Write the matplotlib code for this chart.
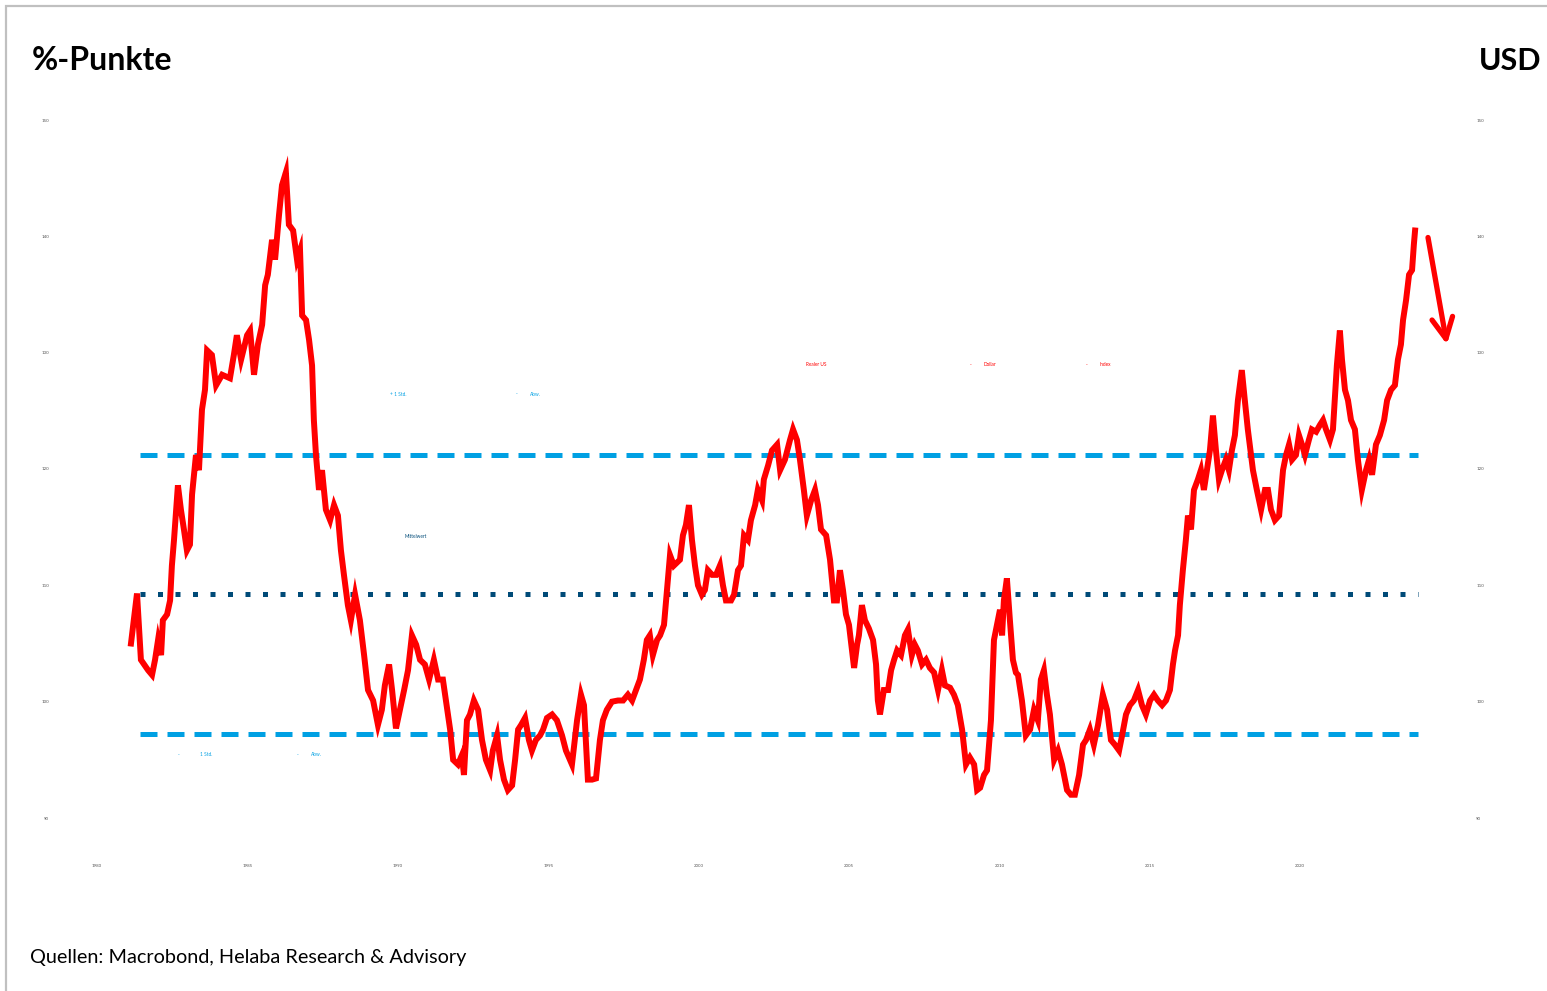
import matplotlib
matplotlib.use('Agg')
import matplotlib.pyplot as plt
from matplotlib.patches import Rectangle

plt.rcParams['font.family'] = ['Lato', 'DejaVu Sans']

# Realer US-Dollar-Index (Jahr, Wert)
YEARS = [1981.13, 1981.33, 1981.46, 1981.70, 1981.83, 1981.93, 1982.03, 1982.13, 1982.19, 1982.33,
         1982.43, 1982.49, 1982.56, 1982.63, 1982.69, 1982.79, 1982.89, 1982.99, 1983.09, 1983.16,
         1983.29, 1983.39, 1983.49, 1983.59, 1983.66, 1983.82, 1983.96, 1984.16, 1984.42, 1984.55,
         1984.65, 1984.79, 1984.99, 1985.09, 1985.22, 1985.35, 1985.49, 1985.59, 1985.68, 1985.82,
         1985.92, 1986.05, 1986.15, 1986.28, 1986.38, 1986.52, 1986.65, 1986.75, 1986.82, 1986.95,
         1987.05, 1987.15, 1987.21, 1987.28, 1987.38, 1987.48, 1987.61, 1987.75, 1987.88, 1988.01,
         1988.11, 1988.21, 1988.34, 1988.44, 1988.58, 1988.74, 1988.88, 1989.01, 1989.18, 1989.34,
         1989.47, 1989.57, 1989.71, 1989.81, 1989.94, 1990.07, 1990.21, 1990.34, 1990.47, 1990.61,
         1990.74, 1990.90, 1991.04, 1991.20, 1991.34, 1991.50, 1991.60, 1991.74, 1991.84, 1992.00,
         1992.13, 1992.20, 1992.30, 1992.40, 1992.53, 1992.67, 1992.80, 1992.93, 1993.07, 1993.16,
         1993.30, 1993.40, 1993.53, 1993.66, 1993.80, 1993.90, 1994.00, 1994.10, 1994.23, 1994.36,
         1994.46, 1994.59, 1994.73, 1994.83, 1994.96, 1995.13, 1995.29, 1995.46, 1995.59, 1995.79,
         1995.96, 1996.09, 1996.19, 1996.32, 1996.46, 1996.59, 1996.72, 1996.82, 1996.95, 1997.12,
         1997.32, 1997.49, 1997.65, 1997.79, 1997.92, 1998.05, 1998.18, 1998.28, 1998.38, 1998.48,
         1998.62, 1998.72, 1998.85, 1998.95, 1999.05, 1999.18, 1999.38, 1999.48, 1999.58, 1999.68,
         1999.78, 1999.88, 1999.98, 2000.11, 2000.21, 2000.31, 2000.45, 2000.58, 2000.71, 2000.81,
         2000.91, 2001.08, 2001.18, 2001.31, 2001.41, 2001.51, 2001.64, 2001.74, 2001.88, 2001.97,
         2002.11, 2002.17, 2002.31, 2002.44, 2002.61, 2002.71, 2002.87, 2003.04, 2003.14, 2003.27,
         2003.37, 2003.50, 2003.60, 2003.74, 2003.87, 2003.97, 2004.07, 2004.24, 2004.37, 2004.50,
         2004.60, 2004.70, 2004.80, 2004.90, 2005.00, 2005.10, 2005.17, 2005.27, 2005.33, 2005.43,
         2005.53, 2005.66, 2005.80, 2005.90, 2005.96, 2006.03, 2006.16, 2006.30, 2006.40, 2006.50,
         2006.60, 2006.73, 2006.86, 2006.96, 2007.09, 2007.19, 2007.29, 2007.43, 2007.56, 2007.69,
         2007.83, 2007.96, 2008.09, 2008.19, 2008.36, 2008.49, 2008.62, 2008.76, 2008.89, 2009.02,
         2009.16, 2009.26, 2009.36, 2009.49, 2009.59, 2009.72, 2009.82, 2009.92, 2010.02, 2010.09,
         2010.15, 2010.25, 2010.35, 2010.45, 2010.55, 2010.62, 2010.75, 2010.88, 2011.02, 2011.15,
         2011.28, 2011.38, 2011.48, 2011.58, 2011.68, 2011.82, 2011.95, 2012.08, 2012.25, 2012.38,
         2012.51, 2012.65, 2012.78, 2012.88, 2013.01, 2013.14, 2013.28, 2013.44, 2013.58, 2013.71,
         2013.84, 2013.98, 2014.08, 2014.21, 2014.34, 2014.47, 2014.61, 2014.74, 2014.87, 2015.01,
         2015.14, 2015.27, 2015.41, 2015.54, 2015.67, 2015.77, 2015.84, 2015.94, 2016.00, 2016.10,
         2016.20, 2016.27, 2016.37, 2016.47, 2016.60, 2016.70, 2016.80, 2016.90, 2017.00, 2017.10,
         2017.20, 2017.30, 2017.40, 2017.53, 2017.63, 2017.73, 2017.83, 2017.93, 2018.06, 2018.16,
         2018.26, 2018.43, 2018.56, 2018.70, 2018.83, 2018.93, 2019.03, 2019.16, 2019.30, 2019.43,
         2019.53, 2019.63, 2019.73, 2019.86, 2019.96, 2020.06, 2020.16, 2020.29, 2020.39, 2020.53,
         2020.66, 2020.76, 2020.86, 2020.99, 2021.09, 2021.22, 2021.32, 2021.39, 2021.49, 2021.59,
         2021.69, 2021.82, 2021.92, 2022.05, 2022.19, 2022.29, 2022.39, 2022.52, 2022.65, 2022.79,
         2022.89, 2023.02, 2023.15, 2023.25, 2023.35, 2023.42, 2023.52, 2023.62, 2023.72, 2023.78,
         2023.82]
INDEX = [105.0, 109.3, 103.6, 102.7, 102.3, 103.6, 105.3, 104.0, 107.0, 107.5,
         108.7, 111.7, 113.9, 116.5, 118.6, 116.5, 114.8, 113.0, 113.5, 117.8,
         121.2, 119.9, 125.1, 126.8, 130.2, 129.8, 127.2, 128.1, 127.8, 129.8,
         131.5, 129.4, 131.5, 131.9, 128.1, 130.7, 132.4, 135.8, 136.7, 139.7,
         138.0, 141.8, 144.4, 145.5, 141.0, 140.5, 138.0, 138.8, 133.2, 132.8,
         131.1, 128.9, 124.2, 121.2, 118.2, 119.9, 116.5, 115.6, 116.9, 116.0,
         113.0, 110.9, 108.3, 107.0, 109.2, 107.0, 104.0, 101.0, 100.1, 98.0,
         99.3, 101.4, 103.2, 101.0, 97.7, 99.3, 101.0, 102.7, 105.7, 104.9,
         103.6, 103.2, 101.9, 103.6, 101.9, 101.9, 100.1, 97.6, 95.0, 94.6,
         95.4, 93.7, 98.4, 98.9, 100.1, 99.3, 96.7, 95.0, 94.1, 95.8,
         97.1, 95.0, 93.3, 92.4, 92.8, 95.0, 97.6, 98.0, 98.6, 96.7,
         95.8, 96.7, 97.1, 97.6, 98.6, 98.9, 98.4, 97.1, 95.8, 94.6,
         98.4, 100.6, 99.7, 93.3, 93.3, 93.4, 96.7, 98.4, 99.3, 100.0,
         100.1, 100.1, 100.6, 100.1, 101.0, 101.9, 103.6, 105.3, 105.7, 104.0,
         105.3, 105.7, 106.6, 109.6, 112.6, 111.7, 112.2, 114.3, 115.2, 116.9,
         113.9, 111.7, 110.0, 109.2, 109.6, 111.3, 110.9, 110.9, 111.7, 110.0,
         108.7, 108.7, 109.2, 111.3, 111.7, 114.3, 113.9, 115.6, 116.9, 118.2,
         117.3, 119.1, 120.3, 121.6, 122.1, 119.9, 120.8, 122.5, 123.4, 122.5,
         120.8, 118.2, 116.0, 117.3, 118.2, 116.9, 114.8, 114.3, 112.2, 108.7,
         108.7, 111.3, 109.6, 107.5, 106.6, 104.4, 102.9, 104.9, 105.7, 108.3,
         107.0, 106.3, 105.3, 103.2, 100.1, 98.9, 101.0, 101.0, 102.7, 103.6,
         104.4, 104.0, 105.7, 106.2, 104.0, 104.9, 104.4, 103.2, 103.6, 102.9,
         102.5, 101.0, 102.7, 101.4, 101.2, 100.6, 99.7, 97.6, 94.6, 95.2,
         94.6, 92.4, 92.6, 93.7, 94.1, 98.4, 105.3, 106.6, 107.9, 105.7,
         108.7, 110.6, 107.0, 103.6, 102.5, 102.3, 100.1, 97.1, 97.6, 99.3,
         98.4, 101.9, 102.7, 100.6, 98.9, 95.0, 95.8, 94.6, 92.4, 92.0,
         92.0, 93.7, 96.3, 96.7, 97.6, 96.3, 98.0, 100.6, 99.3, 96.7,
         96.3, 95.8, 97.1, 98.9, 99.7, 100.1, 101.0, 99.7, 98.9, 100.1,
         100.6, 100.1, 99.7, 100.1, 101.0, 103.2, 104.4, 105.7, 108.3, 111.3,
         113.9, 116.0, 114.8, 118.2, 119.1, 119.9, 118.2, 119.9, 121.6, 124.6,
         121.6, 119.1, 119.9, 120.8, 119.9, 121.6, 122.9, 125.9, 128.5, 125.9,
         123.4, 119.9, 118.2, 116.5, 118.2, 118.2, 116.5, 115.6, 116.0, 119.9,
         121.2, 122.1, 120.8, 121.2, 122.9, 122.1, 121.2, 122.5, 123.4, 123.2,
         123.8, 124.2, 123.4, 122.5, 123.4, 128.9, 131.9, 129.4, 126.8, 125.9,
         124.2, 123.4, 120.8, 118.2, 119.9, 120.8, 119.5, 122.1, 122.9, 124.2,
         125.9, 126.8, 127.2, 129.4, 130.7, 132.8, 134.5, 136.7, 137.1, 139.3,
         140.5]

MEAN = 109.25
PLUS_1SD = 121.2
MINUS_1SD = 97.2
BAND_START, BAND_END = 1981.43, 2023.92
ARROW_FROM = (2024.25, 139.9)
ARROW_TO = (2024.88, 130.7)

YTICKS = [90, 100, 110, 120, 130, 140, 150]
XTICKS = [1980, 1985, 1990, 1995, 2000, 2005, 2010, 2015, 2020]

W, H = 1547, 991
LIGHT = '#00a0e3'
DARK = '#004b78'
RED = '#ff0000'


def fx(px):
    return px / W


def fy(py):
    return 1 - py / H


fig = plt.figure(figsize=(W / 100, H / 100), dpi=100)
fig.patches.append(Rectangle((fx(6), fy(H + 10)), 1.2, fy(6) - fy(H + 10),
                             transform=fig.transFigure, fill=False,
                             edgecolor='#c0c0c0', lw=1.6))

ax = fig.add_axes([fx(60), fy(818), fx(1465) - fx(60), fy(120) - fy(818)])
ax.set_xlim(1978.77, 2025.48)
ax.set_ylim(90, 150)
for s in ax.spines.values():
    s.set_visible(False)

ax.hlines(PLUS_1SD, BAND_START, BAND_END, color=LIGHT, lw=3.6, linestyles=(0, (3.4, 2.0)))
ax.hlines(MINUS_1SD, BAND_START, BAND_END, color=LIGHT, lw=3.6, linestyles=(0, (3.4, 2.0)))
ax.hlines(MEAN, BAND_START, BAND_END, color=DARK, lw=3.6, linestyles=(0, (1, 2.5)))
ax.plot(YEARS, INDEX, color=RED, lw=4.3, solid_joinstyle='miter')
ax.annotate('', xy=ARROW_TO, xytext=ARROW_FROM,
            arrowprops=dict(arrowstyle='->,head_length=1.5,head_width=0.75',
                            color=RED, lw=3.8, shrinkA=0, shrinkB=0))

ax.set_yticks(YTICKS)
ax.set_yticklabels([str(v) for v in YTICKS])
ax.set_xticks(XTICKS)
ax.set_xticklabels([str(v) for v in XTICKS])
ax.tick_params(axis='both', length=0, labelsize=3.2, colors='#555555')
ax.tick_params(axis='y', labelleft=True, labelright=True, pad=8)
ax.tick_params(axis='x', pad=33)

# Beschriftungen
small = dict(fontsize=3.4, va='center', ha='left')
for txt, x in [('Realer US', 806), ('-', 970), ('Dollar', 984), ('-', 1086), ('Index', 1100)]:
    fig.text(fx(x), fy(365), txt, color=RED, **small)
for txt, x in [('+ 1 Std.', 390), ('-', 516), ('Abw.', 530)]:
    fig.text(fx(x), fy(394), txt, color=LIGHT, **small)
for txt, x in [('-', 178), ('1 Std.', 200), ('-', 297), ('Abw.', 311)]:
    fig.text(fx(x), fy(755), txt, color=LIGHT, **small)
fig.text(fx(405), fy(537), 'Mittelwert', color=DARK, **small)

fig.text(fx(32), fy(61), '%-Punkte', fontsize=23, fontweight='bold', va='center', ha='left')
fig.text(fx(1541), fy(61), 'USD', fontsize=22, fontweight='bold', va='center', ha='right')
fig.text(fx(30), fy(957), 'Quellen: Macrobond, Helaba Research & Advisory',
         fontsize=14.3, va='center', ha='left')

fig.savefig('out.png', dpi=100)
